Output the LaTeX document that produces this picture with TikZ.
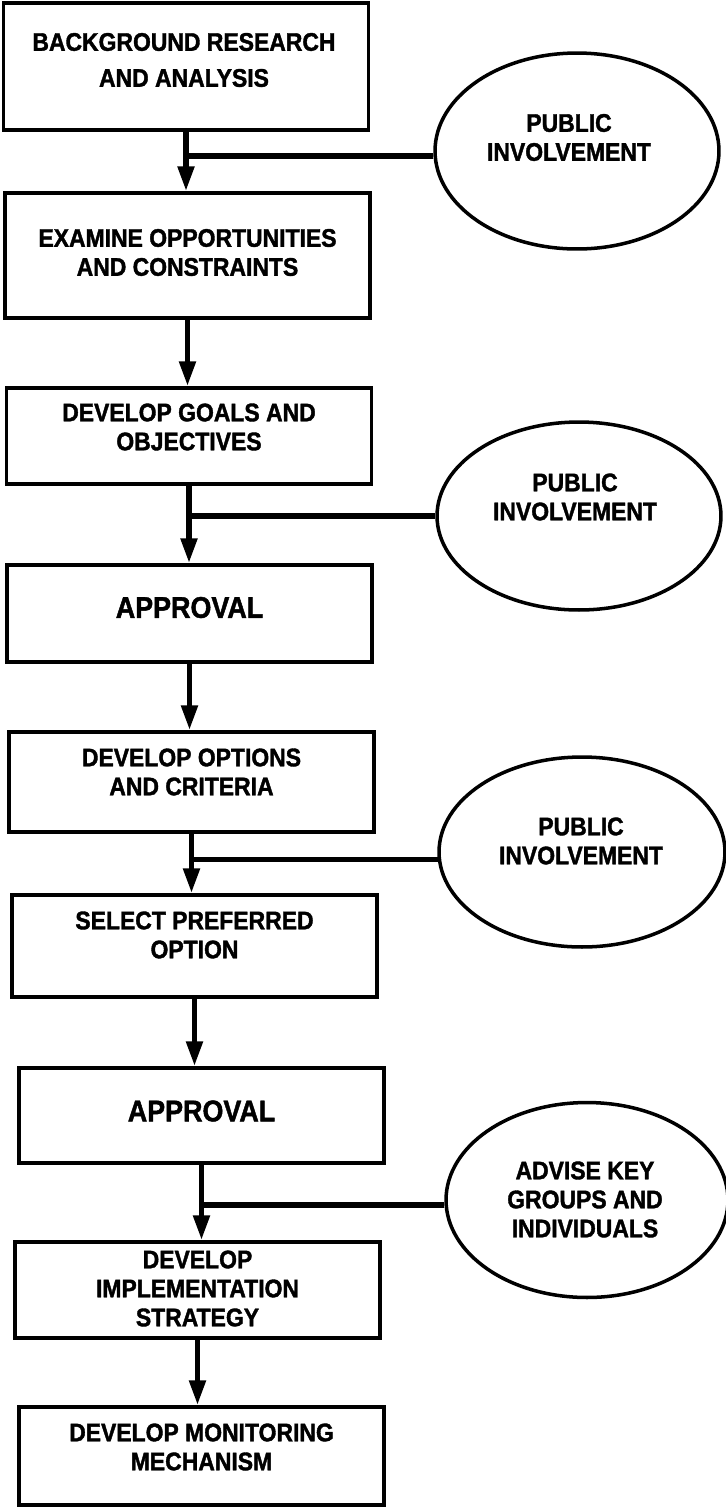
\documentclass[tikz,border=0pt]{standalone}
\usepackage{fontspec}
\setmainfont{Liberation Sans}[FakeStretch=0.9, BoldFeatures={FakeBold=1.5}]
\usepackage{tikz}
\usetikzlibrary{arrows.meta,shapes.geometric}

\begin{document}
\begin{tikzpicture}[x=0.02cm, y=-0.02cm, font=\bfseries\fontsize{14.5}{16.5}\selectfont,
  stage/.style={draw, line width=2.2pt, minimum width=7.3cm},
  outside/.style={draw, ellipse, line width=2pt},
  caption/.style={align=center, inner sep=0pt},
  big/.style={caption, font=\bfseries\fontsize{17}{20}\selectfont},
  flow/.style={line width=3pt, -{Triangle[length=14pt, width=9pt]}},
  feed/.style={line width=3pt}]
  \useasboundingbox (0,0) rectangle (725,1509);

  % Stages
  \node[stage, minimum height=2.54cm] (research) at (186,66.5) {};
  \node[stage, minimum height=2.5cm] (examine) at (187.5,255.5) {};
  \node[stage, minimum height=1.92cm] (goals) at (189,436) {};
  \node[stage, minimum height=1.94cm] (approve1) at (189.5,613.5) {};
  \node[stage, minimum height=2cm] (options) at (191.5,782) {};
  \node[stage, minimum height=2.04cm] (select) at (194.5,946) {};
  \node[stage, minimum height=1.9cm] (approve2) at (201.5,1115.5) {};
  \node[stage, minimum height=1.92cm] (implement) at (197.5,1290) {};
  \node[stage, minimum height=1.96cm] (monitor) at (201.5,1456) {};

  % Stage labels
  \node[caption] (research-t) at (184,60) {BACKGROUND RESEARCH\\[0.14cm]AND ANALYSIS};
  \node[caption] (examine-t) at (187.5,252.5) {EXAMINE OPPORTUNITIES\\AND CONSTRAINTS};
  \node[caption] (goals-t) at (189,427) {DEVELOP GOALS AND\\OBJECTIVES};
  \node[big] (approve1-t) at (189.5,607.5) {APPROVAL};
  \node[caption] (options-t) at (191.5,772) {DEVELOP OPTIONS\\AND CRITERIA};
  \node[caption] (select-t) at (194.5,935) {SELECT PREFERRED\\OPTION};
  \node[big] (approve2-t) at (201.5,1111) {APPROVAL};
  \node[caption] (implement-t) at (197.5,1288.5) {DEVELOP\\IMPLEMENTATION\\STRATEGY};
  \node[caption] (monitor-t) at (201.5,1447) {DEVELOP MONITORING\\MECHANISM};

  % Ellipses
  \node[outside, minimum width=5.68cm, minimum height=3.92cm] (public1) at (577,151) {};
  \node[outside, minimum width=5.68cm, minimum height=3.76cm] (public2) at (579,516) {};
  \node[outside, minimum width=5.72cm, minimum height=3.8cm] (public3) at (582,852) {};
  \node[outside, minimum width=5.64cm, minimum height=3.9cm] (advise) at (587,1200) {};

  \node[caption] (public1-t) at (569,137.5) {PUBLIC\\INVOLVEMENT};
  \node[caption] (public2-t) at (575,497) {PUBLIC\\INVOLVEMENT};
  \node[caption] (public3-t) at (581,841) {PUBLIC\\INVOLVEMENT};
  \node[caption] (advise-t) at (585,1199.5) {ADVISE KEY\\GROUPS AND\\INDIVIDUALS};

  % Arrows
  \draw[flow] (research.south) -- (research.south |- examine.north);
  \draw[flow] (examine.south) -- (examine.south |- goals.north);
  \draw[flow] (goals.south) -- (goals.south |- approve1.north);
  \draw[flow] (approve1.south) -- (approve1.south |- options.north);
  \draw[flow] (options.south) -- (options.south |- select.north);
  \draw[flow] (select.south) -- (select.south |- approve2.north);
  \draw[flow] (approve2.south) -- (approve2.south |- implement.north);
  \draw[flow] (implement.south) -- (implement.south |- monitor.north);

  % Side links
  \draw[feed] (public1.182) -- (public1.182 -| research.south);
  \draw[feed] (public2.180) -- (public2.180 -| goals.south);
  \draw[feed] (public3.183) -- (public3.183 -| options.south);
  \draw[feed] (advise.182) -- (advise.182 -| approve2.south);
\end{tikzpicture}
\end{document}
